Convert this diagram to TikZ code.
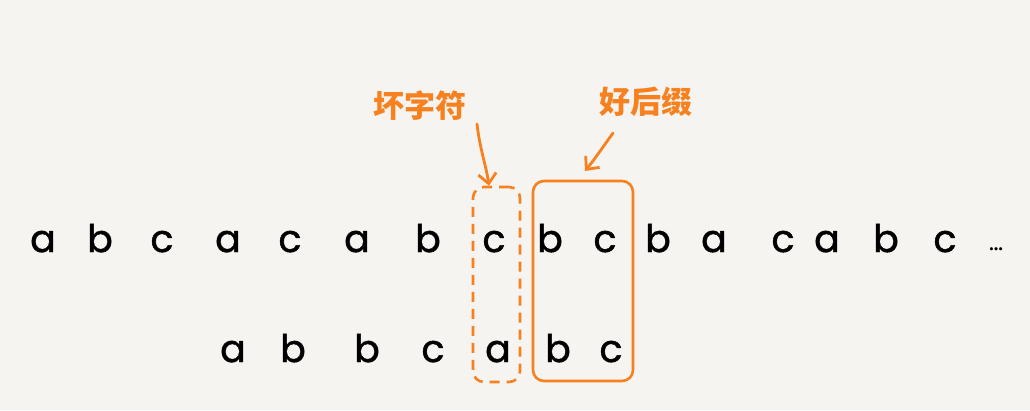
\documentclass[tikz,border=0pt]{standalone}
\usepackage{fontspec}
\setmainfont{Poppins}
\newfontfamily\hand{Poppins}[FakeBold=1.2]
\newfontfamily\cjk{Noto Sans CJK SC}
\usetikzlibrary{arrows.meta}
\definecolor{bg}{HTML}{F5F4F0}
\definecolor{org}{HTML}{F7801F}
\begin{document}
\begin{tikzpicture}[x=1pt,y=-1pt,
  ch/.style={anchor=base,inner sep=0pt,font=\hand\fontsize{38}{42}\selectfont,text=black},
  lbl/.style={inner sep=0pt,font=\cjk\bfseries\fontsize{31}{34}\selectfont,text=org},
  badbox/.style={draw=org,line width=2.6pt,dash pattern=on 10pt off 7pt,rounded corners=11pt,inner sep=0pt},
  goodbox/.style={draw=org,line width=2.6pt,rounded corners=11pt,inner sep=0pt},
  arr/.style={draw=org,line width=2.8pt,line cap=round,-{Straight Barb[length=10pt,width=18pt,line width=2.8pt]}}]
\fill[bg] (0,0) rectangle (1030,410);
\useasboundingbox (0,0) rectangle (1030,410);
% boxes
\node[badbox,minimum width=47pt,minimum height=195pt] (bad) at (496.5,284.5) {};
\node[goodbox,minimum width=100pt,minimum height=200pt] (good) at (583,281) {};
% top row
\foreach \x/\c [count=\i] in {43/a,100/b,162/c,228/a,290/c,357/a,428/b,494/c,550/b,605/c,658/b,714/a,783/c,827/a,886/b,945/c}
  \node[ch] (t\i) at (\x,252) {\c};
\node[ch] (tdots) at (996,250) {\fontsize{22}{24}\selectfont...};
% bottom row
\foreach \x/\c [count=\i] in {233/a,293/b,367/b,433/c,498/a,558/b,611/c}
  \node[ch] (p\i) at (\x,362) {\c};
% labels
\node[lbl] (badlbl) at (420,106) {坏字符};
\node[lbl] (goodlbl) at (646,102) {好后缀};
\coordinate (ba) at (477,124);
\coordinate (ga) at (613,133);
\draw[arr] (ba) .. controls (480,150) and (486,165) .. (bad.north -| 489,0);
\draw[arr] (ga) .. controls (603,147) and (594,160) .. (585,171);
\end{tikzpicture}
\end{document}
